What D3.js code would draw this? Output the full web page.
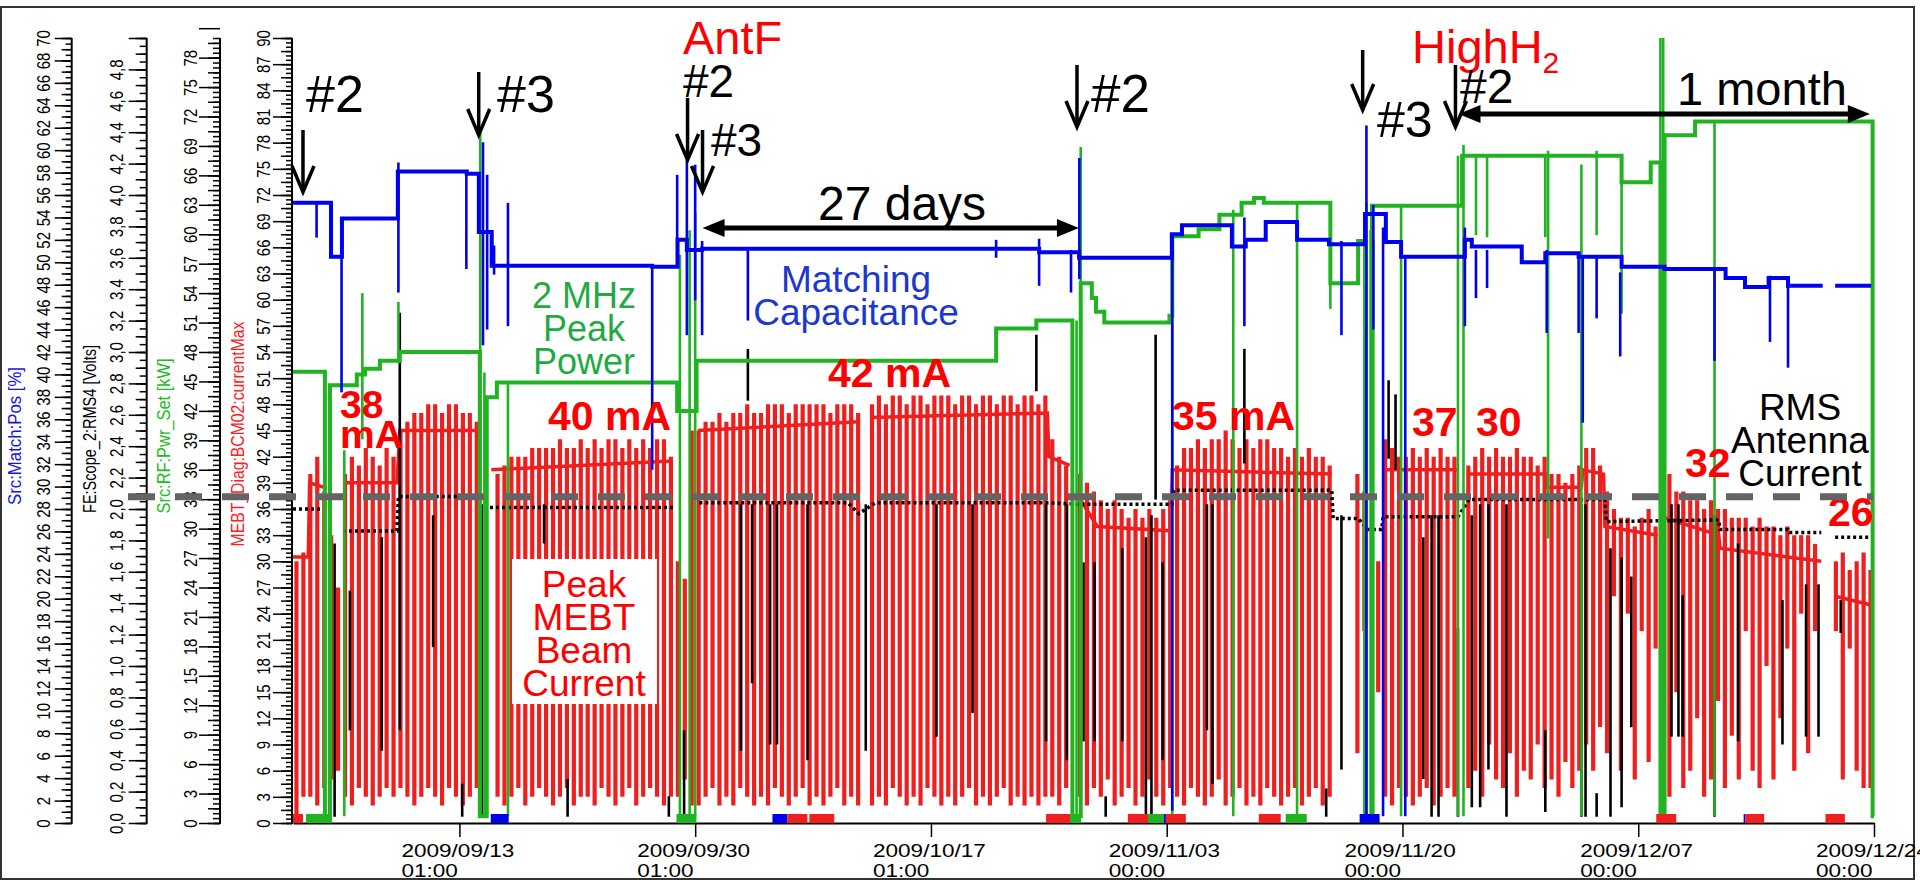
<!DOCTYPE html>
<html><head><meta charset="utf-8">
<script src="https://cdn.jsdelivr.net/npm/d3@7"></script>
<style>
html,body{margin:0;padding:0;background:#fff;}
svg{display:block;}
text{font-family:"Liberation Sans",Arial,sans-serif;}
</style>
</head><body>
<svg id="c" width="1920" height="880"></svg>
<script>
// ---------------- DATA (time in days since 2009-09-01 00:00) ----------------
const START = "2009-09-01";

// x-axis tick labels
const xTickDate = ["2009/09/13","2009/09/30","2009/10/17","2009/11/03","2009/11/20","2009/12/07","2009/12/24"];
const xTickTime = ["01:00","01:00","01:00","00:00","00:00","00:00","00:00"];

// MEBT_Diag:BCM02:currentMax  (red) - sample spikes: top and dip bottom
const redDay = [
0.25,0.75,1.25,1.75,2.25, 2.75,3.25,
3.75,4.25,4.75,5.25,5.75,6.25,6.75,7.25,
7.75,8.25,8.75,9.25,9.75,10.25,10.75,11.25,11.75,12.25,12.75,13.25,
14.75,15.25,15.75,16.25,16.75,17.25,17.75,18.25,18.75,19.25,19.75,20.25,20.75,21.25,21.75,22.25,22.75,23.25,23.75,24.25,24.75,25.25,25.75,26.25,26.75,27.25,
27.75,28.25,28.75,
29.25,29.75,30.25,30.75,31.25,31.75,32.25,32.75,33.25,33.75,34.25,34.75,35.25,35.75,36.25,36.75,37.25,37.75,38.25,38.75,39.25,39.75,40.25,40.75,
41.75,42.25,42.75,43.25,43.75,44.25,44.75,45.25,45.75,46.25,46.75,47.25,47.75,48.25,48.75,49.25,49.75,50.25,50.75,51.25,51.75,52.25,52.75,53.25,53.75,54.25,
54.75,55.25,55.75,
56.75,57.25,57.75,58.25,58.75,59.25,59.75,60.25,60.75,61.25,61.75,62.25,62.75,63.25,
63.75,64.25,64.75,65.25,65.75,66.25,66.75,67.25,67.75,68.25,68.75,69.25,69.75,70.25,70.75,71.25,71.75,72.25,72.75,73.25,73.75,74.25,74.75,
76.75,77.25,78.25,
78.75,79.25,79.75,80.25,80.75,81.25,81.75,82.25,82.75,83.25,83.75,
84.75,85.25,85.75,86.25,86.75,87.25,87.75,88.25,88.75,89.25,89.75,90.25,
90.75,91.25,91.75,92.25,92.75,
93.25,93.75,94.25,
94.75,95.25,95.75,96.25,96.75,97.25,97.75,98.25,
98.75,
99.25,99.75,100.25,100.75,101.25,101.75,102.25,102.75,
103.25,103.75,104.25,104.75,105.25,105.75,106.25,106.75,107.25,107.75,108.25,108.75,109.25,109.75,
111.25,111.75,112.25,112.75,113.25,113.75];
const redTop = [
30,31,40,42,38, 33,27,
40,42,41,43,42,41,43,42,
45,46,47,47,48,48,47,48,48,47,47,46,
40,41,42,42,42,43,43,43,43,44,43,43,44,43,44,43,44,44,43,44,43,44,43,44,44,42,
30,28,45,
45,46,46,47,46,47,47,48,47,47,48,48,48,47,48,48,48,48,48,47,48,48,48,47,
48,49,48,49,49,48,49,49,48,49,49,49,48,49,49,48,49,49,48,49,49,48,49,49,48,49,
44,42,41,
40,39,38,37,36,37,36,35,36,35,36,35,36,37,
41,43,43,44,43,44,44,45,44,43,44,43,44,44,43,43,42,43,42,43,42,42,41,
40,38,30,
44,43,42,42,43,42,43,42,43,42,42,
41,42,43,42,43,42,42,43,42,42,41,42,
40,40,39,40,41,
43,43,41,
38,36,35,35,34,35,36,34,
42,
40,38,38,37,37,36,37,36,
36,35,35,35,34,35,34,34,33,34,33,33,33,32,
30,31,29,30,31,29];
const redLow = [
0,3,3,2,4, 5,6,
3,2,4,3,2,3,4,3,
4,3,2,3,4,3,2,4,3,2,3,4,
3,2,3,4,2,3,4,3,2,3,4,2,3,3,2,4,3,2,3,4,2,3,4,3,2,3,
3,5,2,
2,3,4,2,3,2,4,3,2,3,2,4,3,2,3,4,2,3,2,3,4,2,3,2,
2,3,2,4,3,2,3,2,4,3,2,3,2,3,4,2,3,2,3,4,2,3,2,3,2,3,
3,2,4,
3,2,4,3,5,2,3,4,2,3,5,3,2,4,
3,2,4,3,2,3,5,2,3,4,2,3,2,4,3,2,3,4,2,3,4,2,3,
8,22,15,
3,2,4,3,2,3,4,2,3,4,3,
4,6,3,9,5,4,8,3,6,5,9,4,
5,3,7,4,6,
9,6,11,
8,26,6,24,5,22,7,20,
5,
3,15,4,6,12,3,5,14,
4,10,5,22,6,4,18,5,12,20,6,24,8,22,
22,5,20,6,4,4];
// red running level (thick line)
const redLevelDay = [0,1.1,1.2,2.2,2.3, 3.6,7.5,7.7,13.4,13.5, 14.3,27.3,27.4, 29.2,40.8,40.9, 41.6,54.4,54.5,56.0,56.1, 56.8,58.0,63.3,63.4,74.9,75.0, 78.6,84.0,84.1, 84.8,90.3,90.4,92.9,93.0,94.5,94.6,98.4,98.5, 98.9,102.8,102.9,110.2,110.3, 111.2,113.8];
const redLevelVal = [30.5,30.5,39,38.5,null, 39,39,45,45,null, 40.5,41.5,null, 45,46,null, 46.5,47,42,41,null, 37,34,33.5,40.5,40,null, 40.5,40.5,null, 40,40,38.5,38.5,40.5,40,34,33,null, 35,33,31.5,30,null, 26,25];

// FE:Scope_2:RMS4 [Volts] (black)
const blackDay = [0,2.2,2.3, 3.6,7.5,7.6,13.5,13.6, 14.2,27.4,27.5, 29.3,40.0,40.8,42.0,54.0,56.8,63.4,63.5,74.9,75.0,76.8,77.5,78.5,78.6,84.0,84.8,94.6,94.7,102.8,102.9,107.8,107.9,110.2,110.3,111.2,113.8];
const blackVal = [2.0,2.0,null, 1.86,1.86,2.08,2.08,null, 2.01,2.01,null, 2.04,2.04,1.97,2.04,2.04,2.03,2.03,2.12,2.12,1.94,1.94,1.87,1.87,1.95,1.95,2.06,2.06,1.92,1.93,1.87,1.87,1.85,1.85,null,1.82,1.82];
const blackDropDay = [3.0,4.1,6.4,7.7,10.1,12.2,13.6,18.1,19.8,27.1,28.2,32.3,32.8,33.1,34.4,34.9,37.1,41.3,46.4,49.0,53.6,54.3,55.8,57.0,57.8,58.6,59.8,61.5,61.9,62.2,62.7,65.9,66.3,68.6,74.5,75.6,77.3,77.8,79.0,79.5,81.5,82.1,82.6,84.0,85.0,85.6,86.2,87.5,90.3,92.9,93.2,94.0,95.0,95.8,96.5,99.4,99.9,100.2,102.5,104.2,107.4,109.1,110.0,111.6];
const blackDropHi = [1.78,1.48,1.82,3.25,1.96,0.25,2.03,2.03,0.28,0.17,0.59,2.03,3.02,2.03,2.03,2.03,2.03,2.03,2.03,2.03,3.11,2.03,2.03,1.66,1.66,0.17,1.75,1.82,1.96,3.11,1.66,2.03,2.03,3.02,0.22,1.96,1.96,2.62,2.82,2.73,1.82,1.96,1.96,1.24,1.96,2.03,2.03,2.03,0.59,2.03,2.03,0.19,1.75,1.69,1.57,2.03,2.03,1.45,1.96,1.78,1.42,1.52,1.52,1.42];
const blackDropLo = [0.04,0.59,0.46,0.59,1.12,0.04,0.04,1.78,0.04,0.04,0.04,0.46,2.69,0.89,0.50,0.50,0.40,0.46,0.55,0.70,2.75,0.52,0.40,0.52,0.52,0.04,0.52,0.04,0.04,2.06,0.40,0.59,0.25,2.29,0.04,0.34,0.04,2.39,2.32,2.25,0.28,0.04,0.04,0.04,0.10,0.10,0.34,0.04,0.07,0.04,0.04,0.04,0.04,0.10,0.61,0.55,0.55,0.55,0.04,0.52,0.50,0.55,0.55,1.21];

// Src:RF:Pwr_Set [kW] (green) - step values
const greenDay = [0,2.3,2.66,4.6,5.2,6.27,7.7,13.47,13.97,14.7,27.7,29.1,50.7,53.6,56.2,56.8,57.6,57.9,58.5,63.2,63.4,65.3,66.8,68.4,69.3,70.0,74.8,76.8,77.3,77.8,84.3,95.8,97.9,98.6,98.9,101.1,113.9,114];
const greenVal = [46.0,0.7,44.6,45.7,46.3,47.1,48.0,0.7,43.4,44.9,42.0,47.1,50.4,51.2,0.7,55.0,53.5,52.1,51.0,51.7,59.8,60.5,62.0,63.2,63.7,63.2,55.0,59.3,0.7,62.9,68.0,65.3,67.3,0.7,70.1,71.5,0.7,0.7];
const greenSpikeDay = [2.3,2.7,3.7,5.0,7.6,13.5,13.8,15.5,27.9,28.6,29.0,56.2,56.5,56.8,63.4,67.8,72.4,74.8,77.4,77.7,77.9,79.9,84.0,84.4,85.3,86.1,90.3,90.5,92.9,94.0,95.8,98.6,98.8,98.9,102.5,113.9];
const greenSpikeHi = [46.0,44.6,38.0,54.0,53.1,70.4,45.9,44.9,57.9,60.4,62.2,51.2,51.2,68.9,51.7,62.5,63.2,63.2,63.2,60.4,59.3,62.9,68.0,69.1,68.0,68.0,68.0,68.5,67.1,68.5,65.5,80.0,80.0,70.1,71.5,71.5];
const greenSpikeLo = [0.7,0.7,0.7,39.1,46.9,0.7,0.7,0.7,0.7,0.7,0.7,0.7,0.7,0.7,0.7,0.7,0.7,52.4,0.7,0.7,0.7,0.7,0.7,0.7,59.9,59.7,59.7,29.0,0.7,59.9,51.9,0.7,0.7,2.6,0.7,0.7];

// Src:Match:Pos [%] (blue) - step values
const blueDay = [0,2.74,3.53,7.56,12.53,13.4,14.33,25.9,27.73,28.4,29.5,53.8,56.68,63.37,64.1,67.7,68.7,70.14,72.4,74.7,77.3,78.8,79.9,84.5,85.0,88.6,90.3,92.7,95.8,98.9,103.3,104.7,106.4,107.8,110.3,110.4,111.2,113.8];
const blueVal = [55.3,50.5,53.9,58.1,57.9,52.7,49.7,49.6,52.0,51.1,51.2,50.9,50.4,52.5,53.3,51.4,52.0,53.6,52.0,51.6,54.3,51.8,50.5,52.0,51.4,50.0,50.8,50.5,49.6,49.4,48.6,47.8,48.6,47.9,47.9,null,47.9,47.9];
const blueSpikeDay = [1.7,3.5,7.6,12.5,13.7,14.0,14.5,15.5,25.9,27.7,28.4,29.0,29.5,32.8,50.7,53.8,56.1,56.7,63.4,68.6,75.6,77.4,77.9,78.6,80.2,84.5,85.3,86.1,90.4,92.7,93.0,94.0,95.7,102.5,106.5,107.8];
const blueSpikeHi = [55.3,54.0,58.9,58.0,60.7,57.8,51.5,55.3,49.8,57.8,59.9,58.7,51.9,51.1,52.0,52.1,51.1,59.3,52.3,54.0,51.9,62.2,55.1,53.1,50.5,53.1,51.1,51.1,51.1,50.5,50.5,50.6,49.1,49.4,48.8,48.5];
const blueSpikeLo = [52.2,38.4,47.3,49.4,42.6,44.0,48.9,44.3,31.5,49.8,43.5,46.6,43.5,44.8,50.4,47.9,47.3,48.5,1.1,44.3,43.5,0.6,44.0,0.6,0.6,44.3,46.8,47.7,43.7,43.7,35.7,45.0,41.6,41.2,42.9,40.6];

// status strip at bottom
const statusStart = [0,0.94,14.26,27.65,34.57,35.65,37.23,54.30,56.03,60.20,61.65,62.80,62.94,69.64,71.58,76.91,98.30,104.6,104.73,110.5];
const statusEnd   = [0.72,2.81,15.55,29.09,35.65,37.09,39.03,56.03,56.82,61.65,62.80,62.94,64.38,71.22,73.10,78.35,99.74,104.73,106.08,111.9];
const statusType  = ["r","g","b","g","b","r","r","r","g","r","g","b","r","r","g","b","r","b","r","r"];

// reference line (mA) and annotation events (days)
const refCurrent = 37.4;
const eventArrowDay = [0.72,13.39,28.45,29.53,56.53,77.13,83.82];
const eventArrowTop = [130,72,98,130,65,50,65];
const eventArrowTip = [192,135,160,192,127,110,127];

// ---------------- SCALES ----------------
const svg = d3.select("#c");
const T0 = Date.UTC(2009,8,1);
const day = d => new Date(T0 + d*864e5);
const parseTick = d3.utcParse("%Y/%m/%d");
const Y0 = 823, Y1 = 38;
const x = d3.scaleUtc().domain([day(0), day(114)]).range([293, 1874]);
const yBlue  = d3.scaleLinear().domain([0,70]).range([Y0,Y1]);
const yBlack = d3.scaleLinear().domain([0,5]).range([Y0,Y1]);
const yGreen = d3.scaleLinear().domain([0,80]).range([Y0,Y1]);
const yRed   = d3.scaleLinear().domain([0,90]).range([Y0,Y1]);
const X = d => x(day(d));

const C = {red:"#ef1f1f", green:"#22b322", blue:"#0000f0", black:"#000"};

svg.append("rect").attr("width",1920).attr("height",880).attr("fill","#fff");
svg.append("rect").attr("x",1).attr("y",7).attr("width",1913).attr("height",872)
   .attr("fill","none").attr("stroke","#333").attr("stroke-width",2);

// ---------------- VERTICAL AXES ----------------
function vAxis(cfg){
  const g = svg.append("g").attr("transform",`translate(${cfg.x},0)`);
  const mk = step => d3.range(0, Math.round(cfg.max/step)+1).map(i => +(i*step).toFixed(4));
  const layers = [[cfg.minor,cfg.lens[0]],[cfg.mid,cfg.lens[1]]];
  layers.forEach(([st,len])=>{
    g.append("g").call(d3.axisLeft(cfg.scale).tickValues(mk(st)).tickSize(len).tickFormat("").tickSizeOuter(0))
     .call(s=>s.select(".domain").remove());
  });
  let maj = mk(cfg.major); if (maj[maj.length-1] < cfg.max) maj.push(cfg.max);
  const ga = g.append("g").call(d3.axisLeft(cfg.scale).tickValues(maj).tickSize(cfg.lens[2]).tickSizeOuter(0)
     .tickFormat(v => v <= cfg.labelMax+1e-6 ? cfg.fmt(v) : ""));
  ga.select(".domain").remove();
  ga.selectAll(".tick text").attr("x",0).attr("dy",null).attr("text-anchor","middle")
    .attr("font-size",15).attr("font-family","Liberation Sans, Arial, sans-serif").attr("fill","#000")
    .attr("transform",`translate(${cfg.labelX},0) rotate(-90) scale(1,1.24)`);
  g.selectAll(".tick line").attr("stroke","#000").attr("stroke-width",1.5);
  g.append("line").attr("y1",Y0+1).attr("y2",Y1).attr("stroke","#000").attr("stroke-width",2);
  g.append("text").attr("transform",`translate(${cfg.tx - cfg.x},${cfg.ty}) rotate(-90) scale(1,1.22)`)
    .attr("text-anchor","middle").attr("font-size",15.5).attr("fill",cfg.color)
    .attr("textLength",cfg.tlen).attr("lengthAdjust","spacingAndGlyphs").text(cfg.title);
}
const intFmt = d => String(d);
const commaFmt = d => d.toFixed(1).replace(".",",");
vAxis({x:71.7, scale:yBlue, max:70, minor:0.5, mid:1, major:2, lens:[6,10,17], labelMax:70, fmt:intFmt, labelX:-21.7,
       title:"Src:Match:Pos [%]", color:"#1414ee", tx:21, ty:436, tlen:138});
vAxis({x:146.7, scale:yBlack, max:5, minor:0.05, mid:0.1, major:0.2, lens:[7,11,18], labelMax:4.8, fmt:commaFmt, labelX:-23.7,
       title:"FE:Scope_2:RMS4 [Volts]", color:"#000", tx:96, ty:429, tlen:168});
vAxis({x:220, scale:yGreen, max:80, minor:0.5, mid:1.5, major:3, lens:[7,12,21], labelMax:78, fmt:intFmt, labelX:-23,
       title:"Src:RF:Pwr_Set [kW]", color:"#22bb22", tx:170, ty:436, tlen:155});
vAxis({x:292, scale:yRed, max:90, minor:0.5, mid:1.5, major:3, lens:[6,11,19], labelMax:90, fmt:intFmt, labelX:-22,
       title:"MEBT_Diag:BCM02:currentMax", color:"#ff2020", tx:244, ty:434, tlen:225});

// ---------------- X AXIS ----------------
const xa = svg.append("g").attr("transform",`translate(0,${Y0})`)
  .call(d3.axisBottom(x).tickValues(xTickDate.map(parseTick)).tickSize(14).tickSizeOuter(0).tickFormat(""));
xa.selectAll("line").attr("stroke","#000").attr("stroke-width",1.5);
xa.select(".domain").attr("stroke","#000").attr("stroke-width",2);
xTickDate.forEach((s,i)=>{
  const gx = svg.append("g").attr("transform",`translate(${x(parseTick(s))-58},0) scale(1.22,1)`);
  gx.append("text").attr("x",0).attr("y",857).attr("font-size",18.5).attr("fill","#000").text(s);
  gx.append("text").attr("x",0).attr("y",877).attr("font-size",18.5).attr("fill","#000").text(xTickTime[i]);
});

// ---------------- DATA LAYERS ----------------
const plot = svg.append("g");
const idx = n => d3.range(n);

// red spikes
const nR = Math.min(redDay.length, redTop.length, redLow.length);
plot.append("g").selectAll("line").data(idx(nR)).join("line")
  .attr("x1",i=>X(redDay[i])).attr("x2",i=>X(redDay[i]))
  .attr("y1",i=>yRed(redTop[i])).attr("y2",i=>yRed(redLow[i]))
  .attr("stroke",C.red).attr("stroke-width",4.2);
plot.append("path").datum(idx(redLevelDay.length))
  .attr("d", d3.line().defined(i=>redLevelVal[i]!=null).x(i=>X(redLevelDay[i])).y(i=>yRed(redLevelVal[i])))
  .attr("fill","none").attr("stroke",C.red).attr("stroke-width",3.5);

// black
plot.append("g").selectAll("line").data(idx(blackDropDay.length)).join("line")
  .attr("x1",i=>X(blackDropDay[i])).attr("x2",i=>X(blackDropDay[i]))
  .attr("y1",i=>yBlack(blackDropHi[i])).attr("y2",i=>yBlack(blackDropLo[i]))
  .attr("stroke",C.black).attr("stroke-width",2.6);
plot.append("path").datum(idx(blackDay.length))
  .attr("d", d3.line().defined(i=>blackVal[i]!=null).x(i=>X(blackDay[i])).y(i=>yBlack(blackVal[i])))
  .attr("fill","none").attr("stroke",C.black).attr("stroke-width",3.5).attr("stroke-dasharray","3,3");

// green
plot.append("g").selectAll("line").data(idx(greenSpikeDay.length)).join("line")
  .attr("x1",i=>X(greenSpikeDay[i])).attr("x2",i=>X(greenSpikeDay[i]))
  .attr("y1",i=>yGreen(greenSpikeHi[i])).attr("y2",i=>yGreen(greenSpikeLo[i]))
  .attr("stroke",C.green).attr("stroke-width",2.6);
plot.append("path").datum(idx(greenDay.length))
  .attr("d", d3.line().curve(d3.curveStepAfter).x(i=>X(greenDay[i])).y(i=>yGreen(greenVal[i])))
  .attr("fill","none").attr("stroke",C.green).attr("stroke-width",4);

// blue
plot.append("g").selectAll("line").data(idx(blueSpikeDay.length)).join("line")
  .attr("x1",i=>X(blueSpikeDay[i])).attr("x2",i=>X(blueSpikeDay[i]))
  .attr("y1",i=>yBlue(blueSpikeHi[i])).attr("y2",i=>yBlue(blueSpikeLo[i]))
  .attr("stroke",C.blue).attr("stroke-width",2.6);
plot.append("path").datum(idx(blueDay.length))
  .attr("d", d3.line().curve(d3.curveStepAfter).defined(i=>blueVal[i]!=null).x(i=>X(blueDay[i])).y(i=>yBlue(blueVal[i])))
  .attr("fill","none").attr("stroke",C.blue).attr("stroke-width",4);

// status strip
const stCol = {r:"#f02020", g:"#22b322", b:"#0000ee"};
plot.append("g").selectAll("rect").data(idx(statusStart.length)).join("rect")
  .attr("x",i=>X(statusStart[i])).attr("width",i=>Math.max(1.5,X(statusEnd[i])-X(statusStart[i])))
  .attr("y",814).attr("height",9).attr("fill",i=>stCol[statusType[i]]);

// ---------------- ANNOTATIONS ----------------
const ann = svg.append("g");
// Peak MEBT box
ann.append("rect").attr("x",512).attr("y",559).attr("width",145).attr("height",145).attr("fill","#fff");
function lines(arr, cx, y0, dy, size, color, weight){
  arr.forEach((t,i)=>ann.append("text").attr("x",cx).attr("y",y0+i*dy).attr("text-anchor","middle")
    .attr("font-size",size).attr("fill",color).attr("font-weight",weight||"normal").text(t));
}
lines(["Peak","MEBT","Beam","Current"], 584, 597, 33, 37, "#ff0000");
lines(["2 MHz","Peak","Power"], 584, 308, 33, 36, "#1faa44");
lines(["Matching","Capacitance"], 856, 292, 33, 37, "#1b38d0");
lines(["RMS","Antenna","Current"], 1800, 420, 33, 37, "#000");

function bold(t, xx, yy, size){ ann.append("text").attr("x",xx).attr("y",yy).attr("font-size",size)
  .attr("font-weight","bold").attr("fill","#ff0000").text(t); }
bold("38",340,418,39); bold("mA",340,448,39);
bold("40 mA",548,430,41); bold("42 mA",828,387,41); bold("35 mA",1172,430,41);
bold("37",1412,436,41); bold("30",1476,436,41); bold("32",1685,477,41); bold("26",1828,526,41);

function txt(t, xx, yy, size, color){ return ann.append("text").attr("x",xx).attr("y",yy).attr("font-size",size).attr("fill",color||"#000").text(t); }
txt("#2",306,112,52); txt("#3",497,112,52);
txt("AntF",683,54,47,"#ff0000");
txt("#2",683,97,46); txt("#3",711,156,46);
txt("27 days",818,220,48);
txt("#2",1091,112,53); txt("#3",1377,137,50);
const hh = txt("HighH",1412,63,47,"#ff0000");
hh.append("tspan").attr("font-size",30).attr("dy",10).text("2");
txt("#2",1460,103,48);
txt("1 month",1677,105,47);

// down arrows
eventArrowDay.forEach((d,i)=>{
  const ax = X(d), y1 = eventArrowTop[i], y2 = eventArrowTip[i];
  ann.append("line").attr("x1",ax).attr("x2",ax).attr("y1",y1).attr("y2",y2-1).attr("stroke","#000").attr("stroke-width",3.5);
  ann.append("polyline").attr("points",`${ax-11},${y2-26} ${ax},${y2} ${ax+11},${y2-26}`)
    .attr("fill","none").attr("stroke","#000").attr("stroke-width",3.5);
});
// double arrows
function dbl(d1,d2,yy){
  const a = X(d1), b = X(d2);
  ann.append("line").attr("x1",a+14).attr("x2",b-14).attr("y1",yy).attr("y2",yy).attr("stroke","#000").attr("stroke-width",5);
  ann.append("path").attr("d",`M${a},${yy} L${a+22},${yy-9} L${a+22},${yy+9} Z`).attr("fill","#000");
  ann.append("path").attr("d",`M${b},${yy} L${b-22},${yy-9} L${b-22},${yy+9} Z`).attr("fill","#000");
}
dbl(29.53, 56.67, 228);
dbl(84.04, 113.7, 114);

// dashed reference line
svg.append("line").attr("x1",128).attr("x2",1873).attr("y1",yRed(refCurrent)).attr("y2",yRed(refCurrent))
  .attr("stroke","#646464").attr("stroke-width",7).attr("stroke-dasharray","27,20");
</script>
</body></html>
